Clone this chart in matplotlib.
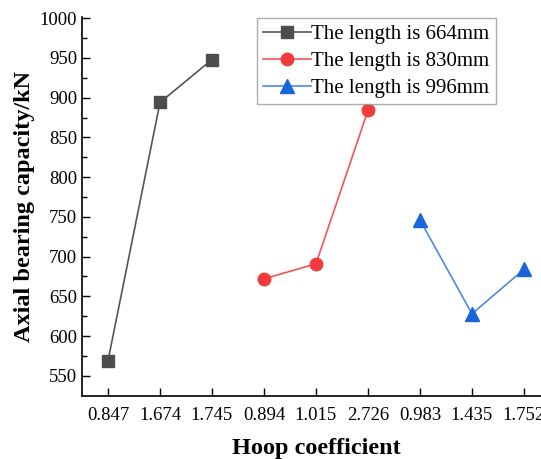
import matplotlib
matplotlib.use("Agg")
import matplotlib.pyplot as plt
import numpy as np

plt.rcParams['font.family'] = ['Liberation Serif', 'DejaVu Serif']

categories = ["0.847", "1.674", "1.745", "0.894", "1.015", "2.726", "0.983", "1.435", "1.752"]
labels = ["The length is 664mm", "The length is 830mm", "The length is 996mm"]
vals_664 = [569, 894, 948]
vals_830 = [672, 691, 884]
vals_996 = [746, 628, 684]

fig = plt.figure(figsize=(5.41, 4.59), dpi=100)
ax = fig.add_axes([0.1516, 0.138, 0.865, 0.824])

x = np.arange(len(categories))
ax.plot(x[0:3], vals_664, color='#555555', lw=1.2, marker='s', ms=8.5,
        markerfacecolor='#4d4d4d', markeredgecolor='#4d4d4d', label=labels[0])
ax.plot(x[3:6], vals_830, color='#f25555', lw=1.2, marker='o', ms=9,
        markerfacecolor='#f23c3c', markeredgecolor='#f23c3c', label=labels[1])
ax.plot(x[6:9], vals_996, color='#4a8ae6', lw=1.2, marker='^', ms=10,
        markerfacecolor='#1a64dc', markeredgecolor='#1a64dc', label=labels[2])

ax.set_xlim(-0.5, 8.5)
ax.set_ylim(525, 1001)
ax.set_xticks(x)
ax.set_xticklabels(categories)
ax.set_yticks(np.arange(550, 1001, 50))
ax.set_yticks(np.arange(575, 1000, 50), minor=True)
ax.tick_params(axis='both', which='major', direction='in', length=6, width=1, labelsize=13.5)
ax.tick_params(axis='y', which='minor', direction='in', length=3.5, width=1)
ax.tick_params(axis='x', pad=8)
for s in ['top', 'right']:
    ax.spines[s].set_visible(False)
for s in ['left', 'bottom']:
    ax.spines[s].set_linewidth(1.2)

ax.set_xlabel("Hoop coefficient", fontsize=17.5, fontweight='bold', labelpad=10)
ax.set_ylabel("Axial bearing capacity/kN", fontsize=17.5, fontweight='bold', labelpad=3)

leg = ax.legend(loc='upper left', bbox_to_anchor=(0.374, 0.998), fontsize=15,
                frameon=True, fancybox=False, edgecolor='#999999',
                handlelength=2.3, handletextpad=0.0, labelspacing=0.36,
                borderpad=0.3, borderaxespad=0.0)
leg.get_frame().set_linewidth(1.0)

fig.savefig("out.png", dpi=100)
